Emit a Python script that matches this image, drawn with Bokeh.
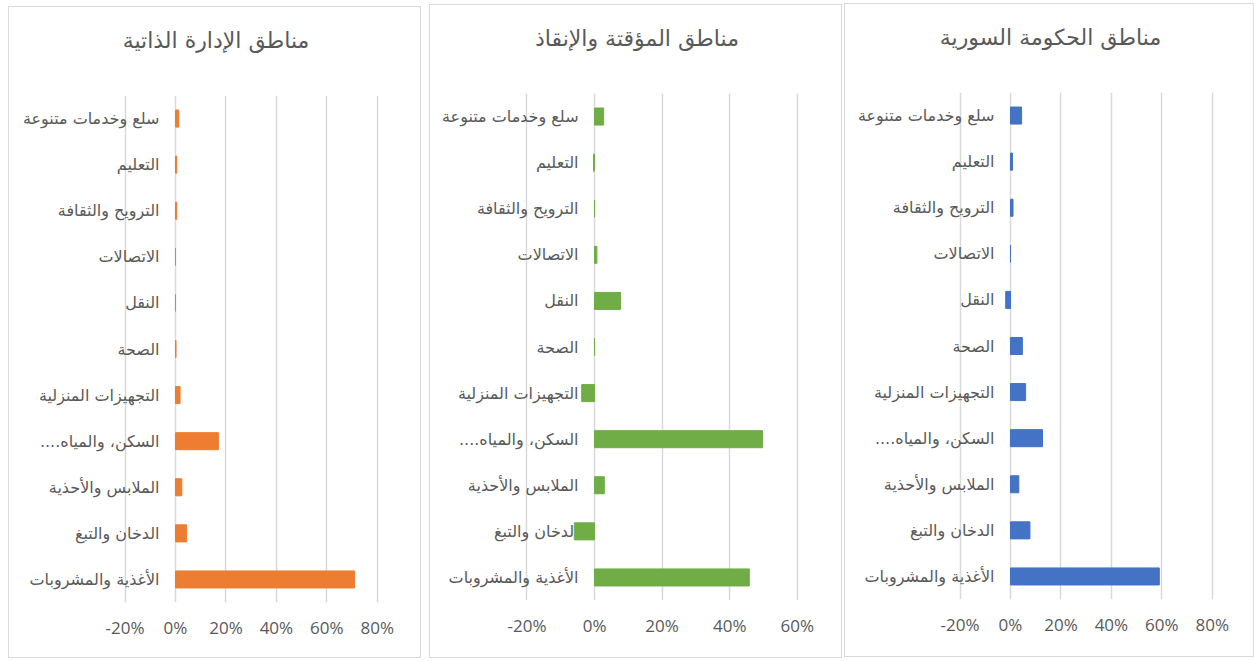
from bokeh.plotting import figure
from bokeh.models import ColumnDataSource, FactorRange, Range1d, LabelSet, NumeralTickFormatter, FixedTicker
from bokeh.layouts import row
from bokeh.embed import file_html
from bokeh.resources import INLINE
from bokeh.core.properties import value

# Categories, top to bottom as shown
categories = [
    "سلع وخدمات متنوعة",
    "التعليم",
    "الترويح والثقافة",
    "الاتصالات",
    "النقل",
    "الصحة",
    "التجهيزات المنزلية",
    "السكن، والمياه....\u200f",
    "الملابس والأحذية",
    "الدخان والتبغ",
    "الأغذية والمشروبات",
]

titles = ["مناطق الإدارة الذاتية", "مناطق المؤقتة والإنقاذ", "مناطق الحكومة السورية"]

self_admin = [0.013, 0.005, 0.005, 0.0, 0.0, 0.002, 0.018, 0.17, 0.025, 0.044, 0.71]
interim = [0.027, -0.003, 0.0, 0.007, 0.077, 0.0, -0.038, 0.497, 0.029, -0.06, 0.458]
government = [0.044, 0.008, 0.01, 0.0, -0.019, 0.047, 0.06, 0.127, 0.033, 0.077, 0.59]

ticks_a = [-0.2, 0.0, 0.2, 0.4, 0.6, 0.8]
ticks_b = [-0.2, 0.0, 0.2, 0.4, 0.6]

colors = ["#ED7D31", "#70AD47", "#4472C4"]

TEXT = "#595959"
GRID = "#D9D9D9"
AR_FONT = "DejaVu Sans"
NUM_FONT = "Open Sans"
FRAME_H = 505


def make_panel(title, vals, color, ticks, inner_w, inner_h, top, px_left_tick, px_right_tick, title_standoff):
    # px_left_tick / px_right_tick: pixel offsets (inside panel) of first and last tick
    scale = (px_right_tick - px_left_tick) / (ticks[-1] - ticks[0])
    x0 = ticks[0] - px_left_tick / scale
    x1 = ticks[-1] + (inner_w - px_right_tick) / scale
    src = ColumnDataSource(dict(cat=categories, val=vals, zero=[0] * len(vals)))
    p = figure(
        output_backend="svg", toolbar_location=None,
        y_range=FactorRange(factors=categories[::-1]),
        x_range=Range1d(x0, x1),
        y_axis_location=None,
        frame_width=inner_w, frame_height=FRAME_H,
        min_border_left=0, min_border_right=0,
        min_border_top=top, min_border_bottom=inner_h - top - FRAME_H,
        width=inner_w, height=inner_h,
    )
    p.styles = {"border": "1px solid #D9D9D9"}
    p.outline_line_color = None
    p.background_fill_color = "white"
    p.border_fill_color = "white"

    labels = LabelSet(x="zero", y="cat", text="cat", source=src, x_offset=-16,
                      text_align="right", text_baseline="middle", level="underlay",
                      text_font=value(AR_FONT), text_font_size="16px", text_color=TEXT)
    p.add_layout(labels)

    p.hbar(y="cat", left=0, right="val", height=0.37, color=color, source=src)

    p.ygrid.visible = False
    p.xgrid.grid_line_color = GRID
    p.xgrid.grid_line_width = 1.5
    p.xaxis.ticker = FixedTicker(ticks=ticks)
    p.xaxis.formatter = NumeralTickFormatter(format="0%")
    p.xaxis.axis_line_color = None
    p.xaxis.major_tick_line_color = None
    p.xaxis.minor_tick_line_color = None
    p.xaxis.major_tick_out = 0
    p.xaxis.major_tick_in = 0
    p.xaxis.major_label_text_color = TEXT
    p.xaxis.major_label_text_font = NUM_FONT
    p.xaxis.major_label_text_font_size = "17px"
    p.xaxis.major_label_standoff = 13

    # trailing empty line lifts the title higher above the plot area
    p.title.text = title + "\n "
    p.title.align = "center"
    p.title.text_font = AR_FONT
    p.title.text_font_size = "22px"
    p.title.text_line_height = 1.45
    p.title.text_font_style = "normal"
    p.title.text_color = TEXT
    p.title.standoff = title_standoff
    return p


p1 = make_panel(titles[0], self_admin, colors[0], ticks_a, 411, 650, 88, 115, 366, 12)
p2 = make_panel(titles[1], interim, colors[1], ticks_b, 411, 652, 86, 96, 365, 12)
p3 = make_panel(titles[2], government, colors[2], ticks_a, 408, 652, 87, 114, 365, 12)
p1.margin = (6, 0, 0, 8)
p2.margin = (4, 0, 0, 8)
p3.margin = (3, 0, 0, 2)

layout = row(p1, p2, p3)
open("out.html", "w").write(file_html(layout, INLINE))
